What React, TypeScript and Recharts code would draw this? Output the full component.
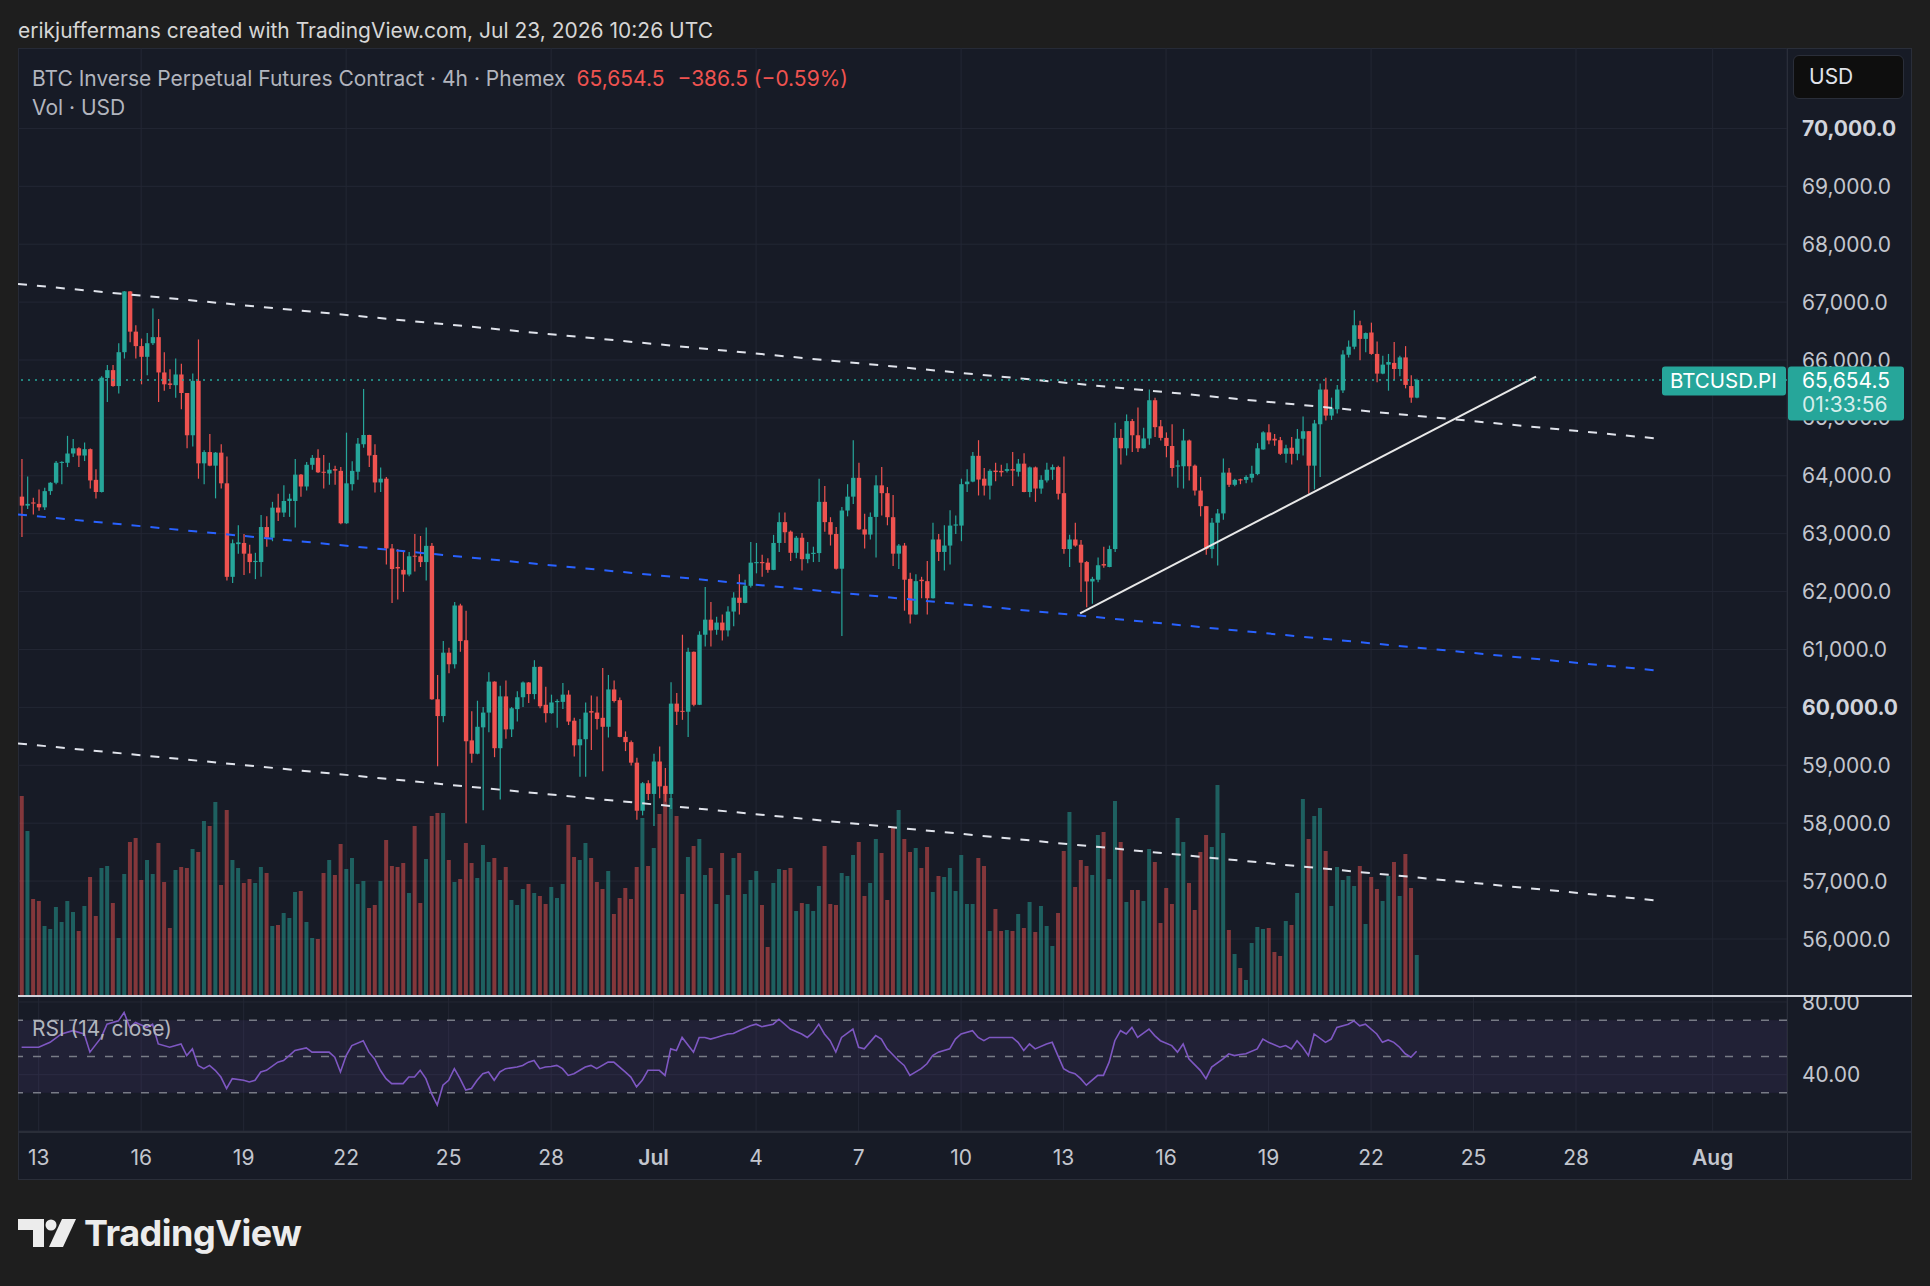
import React from "react";
import {
  ComposedChart,
  Bar,
  Line,
  XAxis,
  YAxis,
  CartesianGrid,
  ReferenceLine,
  ReferenceArea,
  Cell,
} from "recharts";

// BTCUSD.PI 4h candles, first visible one opens Jun 12 2026 12:00 UTC
const FIRST_CANDLE = Date.UTC(2026, 5, 12, 12);
const FOUR_H = 4 * 3600 * 1000;

// [open, high, low, close]
const ohlc: [number, number, number, number][] = [
  [63640, 64290, 62945, 63485], [63485, 63990, 63425, 63515], [63540, 63620, 63330, 63520], [63515, 63765, 63395, 63455],
  [63455, 63795, 63410, 63735], [63735, 63890, 63670, 63880], [63880, 64255, 63855, 64225], [64225, 64250, 63855, 64240],
  [64225, 64690, 64150, 64385], [64385, 64635, 64325, 64475], [64475, 64495, 64150, 64350], [64350, 64575, 64255, 64460],
  [64460, 64470, 63780, 63920], [63930, 64115, 63610, 63720], [63720, 65720, 63710, 65695], [65690, 65915, 65275, 65825],
  [65825, 65915, 65540, 65550], [65550, 66290, 65420, 66135], [66135, 67190, 66025, 67185], [67185, 67190, 66305, 66490],
  [66490, 66600, 66025, 66240], [66240, 66370, 65580, 66055], [66055, 66465, 65735, 66290], [66290, 66890, 66260, 66395],
  [66395, 66710, 65275, 65785], [65785, 66135, 65470, 65580], [65595, 65840, 65500, 65570], [65565, 66025, 65350, 65750],
  [65750, 65935, 65150, 65430], [65430, 65430, 64475, 64700], [64700, 65765, 64505, 65640], [65640, 66355, 63950, 64215],
  [64215, 64440, 63855, 64410], [64410, 64720, 64165, 64175], [64175, 64410, 63610, 64400], [64400, 64545, 63780, 63870],
  [63870, 64335, 62190, 62255], [62255, 62900, 62150, 62835], [62820, 63145, 62655, 62850], [62840, 62995, 62285, 62655],
  [62655, 62810, 62315, 62510], [62510, 62670, 62215, 62530], [62510, 63325, 62255, 63115], [63115, 63300, 62775, 62930],
  [62930, 63550, 62870, 63450], [63450, 63690, 63220, 63365], [63365, 63835, 63290, 63565], [63565, 63690, 63290, 63605],
  [63565, 64290, 63105, 64020], [64020, 64030, 63640, 63815], [63815, 64240, 63745, 64190], [64190, 64360, 64105, 64310],
  [64310, 64460, 64050, 64060], [64070, 64360, 63780, 64060], [64040, 64225, 63845, 64105], [64115, 64175, 63845, 64090],
  [64085, 64150, 63165, 63180], [63180, 64745, 63170, 63870], [63855, 64250, 63745, 64085], [64070, 64655, 63930, 64555],
  [64545, 65500, 64485, 64705], [64705, 64710, 64150, 64350], [64360, 64545, 63710, 63885], [63885, 64145, 63720, 63950],
  [63950, 63980, 62470, 62745], [62745, 62820, 61805, 62390], [62425, 62735, 61865, 62400], [62375, 62695, 61995, 62295],
  [62295, 62685, 62265, 62610], [62620, 62995, 62345, 62605], [62610, 62960, 62425, 62510], [62510, 63105, 62190, 62790],
  [62790, 62840, 60130, 60140], [60140, 60560, 58985, 59850], [59850, 61145, 59745, 60945], [60945, 61030, 60590, 60745],
  [60745, 61820, 60670, 61760], [61760, 61790, 60960, 61145], [61160, 61670, 58000, 59415], [59430, 59935, 59045, 59200],
  [59200, 60115, 59190, 59665], [59655, 60005, 58225, 59910], [59910, 60605, 59570, 60445], [60445, 60450, 59140, 59295],
  [59295, 60375, 58410, 60190], [60190, 60465, 59460, 59620], [59620, 60005, 59490, 59985], [59970, 60280, 59755, 60175],
  [60175, 60445, 60005, 60430], [60430, 60440, 60075, 60230], [60230, 60815, 60140, 60700], [60700, 60705, 59985, 60020],
  [60045, 60355, 59740, 59900], [59900, 60220, 59890, 60085], [60090, 60140, 59650, 60110], [60095, 60420, 59970, 60220],
  [60220, 60295, 59695, 59755], [59770, 59820, 59150, 59345], [59345, 59800, 58800, 59450], [59450, 60085, 58800, 59910],
  [59935, 60205, 59265, 59910], [59910, 60190, 59620, 59800], [59820, 60680, 58895, 59665], [59665, 60560, 59480, 60310],
  [60310, 60465, 60085, 60110], [60125, 60170, 59485, 59490], [59490, 59585, 59245, 59400], [59400, 59430, 58995, 59045],
  [59045, 59130, 58060, 58215], [58215, 58710, 58135, 58690], [58690, 58740, 58400, 58505], [58505, 59200, 57950, 59065],
  [59065, 59325, 58430, 58635], [58645, 58955, 58370, 58505], [58505, 60435, 58245, 60065], [60065, 60250, 59695, 59925],
  [59940, 61255, 59785, 59925], [59925, 61030, 59490, 60960], [60960, 60965, 60020, 60045], [60045, 61315, 60040, 61255],
  [61255, 62080, 61050, 61515], [61515, 61820, 61050, 61330], [61340, 61565, 61255, 61465], [61465, 61605, 61155, 61330],
  [61330, 61745, 61225, 61655], [61655, 61990, 61400, 61895], [61895, 62300, 61605, 61805], [61805, 62205, 61800, 62100],
  [62100, 62855, 62070, 62500], [62490, 62840, 62315, 62510], [62510, 62635, 62255, 62490], [62500, 62575, 62325, 62375],
  [62375, 62980, 62370, 62840], [62840, 63365, 62685, 63200], [63200, 63365, 62840, 63025], [63035, 63055, 62530, 62670],
  [62670, 62960, 62575, 62930], [62930, 63010, 62365, 62560], [62560, 62855, 62490, 62655], [62650, 62775, 62510, 62670],
  [62665, 63950, 62510, 63550], [63550, 63825, 63035, 63200], [63200, 63285, 62795, 62985], [62995, 63115, 62380, 62395],
  [62395, 63460, 61235, 63400], [63400, 63855, 63300, 63640], [63640, 64615, 63515, 63965], [63965, 64225, 63070, 63075],
  [63075, 63345, 62745, 62985], [62985, 63365, 62900, 63290], [63290, 64010, 62590, 63835], [63835, 64150, 63315, 63700],
  [63700, 63805, 63145, 63285], [63285, 63670, 62440, 62655], [62655, 62820, 62390, 62795], [62795, 62840, 61670, 62205],
  [62220, 62325, 61450, 61605], [61605, 62300, 61600, 62180], [62205, 62255, 61885, 62180], [62180, 62530, 61605, 61885],
  [61885, 63190, 61880, 62900], [62900, 62995, 62530, 62685], [62685, 63145, 62365, 62795], [62795, 63405, 62470, 63140],
  [63140, 63315, 62995, 63160], [63140, 63950, 62870, 63855], [63855, 64115, 63720, 63900], [63900, 64410, 63890, 64345],
  [64345, 64615, 63660, 63935], [63950, 64135, 63660, 63830], [63830, 64115, 63590, 64085], [64090, 64225, 63905, 64065],
  [64085, 64190, 63990, 64060], [64085, 64215, 64055, 64115], [64115, 64410, 63825, 64090], [64070, 64290, 63990, 64210],
  [64210, 64390, 63715, 63720], [63720, 64160, 63630, 64145], [64145, 64160, 63550, 63780], [63780, 64010, 63690, 63930],
  [63920, 64225, 63885, 64105], [64105, 64195, 63930, 64150], [64150, 64175, 63590, 63690], [63700, 64335, 62655, 62735],
  [62735, 62980, 62425, 62900], [62900, 63190, 62775, 62795], [62810, 62890, 61995, 62500], [62510, 62530, 61730, 62175],
  [62175, 62255, 61790, 62220], [62205, 62590, 62160, 62455], [62475, 62775, 62410, 62450], [62425, 62795, 62420, 62735],
  [62735, 64915, 62685, 64655], [64655, 64810, 64195, 64475], [64475, 65060, 64350, 64945], [64945, 64980, 64410, 64700],
  [64700, 65180, 64410, 64475], [64475, 64830, 64470, 64645], [64645, 65490, 64535, 65305], [65305, 65350, 64670, 64840],
  [64855, 64965, 64610, 64655], [64655, 64750, 64320, 64515], [64515, 64890, 63990, 64135], [64160, 64270, 63795, 64180],
  [64165, 64810, 63780, 64610], [64610, 64625, 63920, 64165], [64175, 64195, 63660, 63745], [63745, 63980, 63300, 63475],
  [63475, 63480, 62635, 62735], [62735, 63270, 62575, 63190], [63190, 63425, 62450, 63350], [63350, 64300, 63240, 64055],
  [64055, 64135, 63805, 63845], [63845, 63950, 63820, 63930], [63940, 63950, 63855, 63920], [63930, 64010, 63870, 63980],
  [63965, 64175, 63885, 64035], [64030, 64565, 64010, 64475], [64455, 64770, 64450, 64750], [64750, 64890, 64545, 64610],
  [64640, 64720, 64520, 64610], [64615, 64670, 64360, 64380], [64380, 64535, 64225, 64475], [64485, 64670, 64195, 64380],
  [64380, 64810, 64270, 64640], [64640, 65025, 64350, 64770], [64770, 64775, 63690, 64175], [64175, 64965, 63765, 64905],
  [64890, 65595, 63980, 65490], [65490, 65695, 64955, 65040], [65040, 65350, 64965, 65165], [65150, 65570, 65075, 65490],
  [65475, 66170, 65430, 66095], [66090, 66335, 66045, 66230], [66230, 66860, 66185, 66600], [66600, 66680, 65995, 66365],
  [66365, 66475, 66135, 66465], [66475, 66645, 66090, 66105], [66105, 66320, 65615, 65765], [65765, 66075, 65755, 65920],
  [65920, 66105, 65470, 65965], [65950, 66310, 65655, 65845], [65845, 66075, 65720, 66045], [66045, 66240, 65510, 65570],
  [65550, 65735, 65260, 65350], [65350, 65675, 65340, 65654.5],
];

// volume, M USD
const volumes = [
  200, 165, 97, 95, 70, 67, 89, 74, 95, 84, 65, 90, 119, 80, 128, 130, 93, 58, 122, 154,
  158, 116, 136, 122, 153, 114, 68, 126, 129, 128, 147, 144, 175, 170, 194, 111, 186, 136, 128, 113,
  117, 113, 129, 123, 70, 71, 83, 78, 104, 105, 74, 58, 57, 123, 136, 121, 152, 127, 138, 112,
  115, 88, 91, 115, 156, 130, 129, 133, 103, 170, 93, 137, 180, 183, 183, 136, 114, 117, 153, 133,
  118, 151, 134, 138, 116, 129, 96, 91, 107, 112, 103, 100, 92, 109, 98, 112, 171, 139, 136, 153,
  138, 114, 107, 125, 82, 98, 108, 97, 129, 178, 130, 148, 182, 209, 198, 180, 102, 139, 150, 157,
  121, 128, 92, 143, 101, 138, 143, 102, 116, 125, 91, 49, 113, 127, 126, 128, 85, 93, 92, 85,
  110, 150, 92, 91, 123, 120, 141, 154, 100, 113, 157, 143, 96, 169, 186, 157, 144, 148, 128, 149,
  104, 120, 119, 128, 105, 141, 92, 92, 138, 130, 65, 87, 65, 66, 65, 82, 68, 94, 64, 90,
  70, 50, 83, 145, 184, 109, 136, 130, 121, 161, 164, 117, 195, 154, 94, 106, 106, 95, 147, 134,
  73, 108, 92, 178, 154, 113, 86, 144, 161, 149, 211, 163, 66, 42, 28, 16, 53, 69, 67, 68,
  44, 40, 75, 71, 103, 197, 157, 180, 188, 145, 90, 129, 116, 120, 110, 130, 72, 119, 107, 95,
  120, 134, 100, 142, 108, 41,
];

// RSI(14, close)
const rsi14: (number | null)[] = [
  55.1, null, null, 55.1, null, 57.8, null, 62.4, null, 64.2,
  null, 62.4, 52.4, null, 60.5, 67.8, null, 69.6, 74.2, 66.0,
  68.7, null, 66.0, 67.8, 56.9, null, 55.1, null, 56.9, 50.5,
  54.2, 45.1, 43.3, 45.1, 42.4, 38.7, 32.4, 37.8, null, 36.9,
  36.0, 36.9, 41.5, 42.4, null, 46.9, 47.8, 50.5, 53.3, null,
  54.7, 52.4, 52.4, null, 52.4, 49.6, 41.5, 50.5, 56.0, null,
  58.7, 52.4, 48.7, 42.4, 37.8, 35.1, null, 35.1, 38.7, 38.7,
  42.4, 37.8, 29.6, 23.3, 34.2, 36.9, 43.3, 37.8, 31.5, 32.4,
  36.9, 40.5, 41.5, 36.9, 41.5, 43.3, null, 44.2, 45.1, 46.9,
  47.8, 43.3, 44.2, 44.5, 45.1, 43.3, 39.6, 40.5, null, 44.2,
  45.1, 43.3, null, 46.9, 46.9, null, 41.5, 38.7, 33.3, 36.9,
  42.4, null, 42.4, 39.6, 54.2, 53.3, 60.5, null, 52.4, 60.5,
  60.5, 59.6, 60.5, null, 62.4, 62.7, 64.2, null, 66.9, 67.8,
  66.4, null, 67.8, 70.5, 67.8, 65.1, null, 62.4, 60.5, 63.3,
  67.8, 62.4, 58.7, 52.4, 60.5, null, 65.1, 55.1, 54.2, null,
  61.5, 59.6, 54.2, null, 47.8, 45.1, 39.6, null, 43.3, 46.0,
  50.5, 52.4, null, 54.2, 59.6, 62.4, null, 64.2, 60.5, 58.7,
  60.5, null, 60.5, 60.5, 60.5, 57.8, 53.3, 56.9, 54.2, null,
  56.9, 57.8, 50.5, 43.3, 41.5, 40.5, 37.8, 34.2, null, 39.6,
  39.6, 46.9, 58.7, 64.2, 62.4, 66.0, 60.5, null, 65.1, 61.5,
  58.7, null, 56.0, 52.4, 56.9, 48.7, null, 42.4, 37.8, 44.2,
  null, 48.7, 51.5, 50.5, 51.1, 51.5, null, 54.2, 59.6, 57.8,
  null, 55.1, 56.0, 54.2, 58.7, 55.1, 50.5, 62.4, null, 57.8,
  59.6, 66.0, null, 67.8, 69.6, 66.9, 67.8, null, 62.4, 57.8,
  59.1, 57.8, 55.1, 51.5, 49.6, 52.9,
];

const tickDates = [
  "2026-06-13", "2026-06-16", "2026-06-19", "2026-06-22", "2026-06-25", "2026-06-28",
  "2026-07-01", "2026-07-04", "2026-07-07", "2026-07-10", "2026-07-13", "2026-07-16",
  "2026-07-19", "2026-07-22", "2026-07-25", "2026-07-28", "2026-08-01",
];
const tickLabels = ["13", "16", "19", "22", "25", "28", "Jul", "4", "7", "10", "13", "16", "19", "22", "25", "28", "Aug"];
const priceTicks = [56000, 57000, 58000, 59000, 60000, 61000, 62000, 63000, 64000, 65000, 66000, 67000, 68000, 69000, 70000];
const rsiTicks = [40, 80];
const rsiLevels = [70, 50, 30];

// drawings, [candle index, price]
const channelTop = [[-0.63, 67313], [288.1, 64636]];
const channelMid = [[-0.63, 63332], [288.1, 60629]];
const channelLow = [[-0.63, 59377], [288.1, 56656]];
const supportLine = [[185.9, 61624], [265.97, 65713]];

const lastPrice = 65654.5;
const countdown = "01:33:56";

const UP = "#26a69a";
const DOWN = "#ef5350";
const GRID = "#232734";
const PANEL_BG = "#171b26";
const PAGE_BG = "#1e1e1e";
const BORDER = "#2a2e39";
const TEXT = "#c3c6ce";
const FONT = "Inter, 'Noto Sans', sans-serif";
const PRICE_DOMAIN = [55015, 71389];

const at = (i: number) => FIRST_CANDLE + i * FOUR_H;
const xDomain = [at(-0.632), at(310.05)];
const tickTimes = tickDates.map((d) => Date.parse(d + "T00:00:00Z"));
const labelByTime = new Map(tickTimes.map((t, k) => [t, tickLabels[k]]));

const candles = ohlc.map(([open, high, low, close], i) => ({
  t: at(i),
  open,
  high,
  low,
  close,
  range: [low, high],
  vol: volumes[i],
  rsi: rsi14[i],
}));

const fmtPrice = (v: number) =>
  v.toLocaleString("en-US", { minimumFractionDigits: 1, maximumFractionDigits: 1 });

function Candle(props: any) {
  const { x, y, width, height, payload } = props;
  if (!payload || height == null) return null;
  const { open, close, high, low } = payload;
  const color = close >= open ? UP : DOWN;
  const k = height / (high - low || 1);
  const top = y + (high - Math.max(open, close)) * k;
  const bodyH = Math.max(1, Math.abs(open - close) * k);
  const cx = x + width / 2;
  return (
    <g>
      <line x1={cx} x2={cx} y1={y} y2={y + height} stroke={color} strokeWidth={1.2} />
      <rect x={x} y={top} width={width} height={bodyH} fill={color} />
    </g>
  );
}

function PriceAxisTick(props: any) {
  const { x, y, payload } = props;
  const major = payload.value % 10000 === 0;
  return (
    <text x={x} y={y} dy="0.36em" textAnchor="start" fontSize={21}
      fill={major ? "#d1d4dc" : TEXT} fontWeight={major ? 700 : 400}>
      {fmtPrice(payload.value)}
    </text>
  );
}

function RsiAxisTick(props: any) {
  const { x, y, payload } = props;
  return (
    <text x={x} y={y} dy="0.36em" textAnchor="start" fontSize={21} fill={TEXT}>
      {payload.value.toFixed(2)}
    </text>
  );
}

function TimeTick(props: any) {
  const { x, y, payload } = props;
  const label = labelByTime.get(payload.value) ?? "";
  const month = isNaN(Number(label));
  return (
    <text x={x} y={y} dy="0.71em" textAnchor="middle" fontSize={21}
      fill={TEXT} fontWeight={month ? 600 : 400}>
      {label}
    </text>
  );
}

function PriceTag(props: any) {
  const vb = props.viewBox;
  if (!vb) return null;
  const y = vb.y;
  const right = vb.x + vb.width;
  return (
    <g>
      <rect x={right - 125} y={y - 13.5} width={124} height={29} rx={3} fill={UP} />
      <text x={right - 117} y={y + 1} dy="0.36em" fill="#ffffff" fontSize={20.5}>BTCUSD.PI</text>
      <rect x={right + 1} y={y - 13.5} width={116} height={54} rx={3} fill={UP} />
      <text x={right + 15} y={y} dy="0.36em" fill="#ffffff" fontSize={21}>{fmtPrice(lastPrice)}</text>
      <text x={right + 15} y={y + 24} dy="0.36em" fill="rgba(255,255,255,0.82)" fontSize={21}>{countdown}</text>
    </g>
  );
}

const seg = (pts: number[][]) => pts.map(([i, p]) => ({ x: at(i), y: p }));

function PriceChart() {
  return (
    <ComposedChart width={1894} height={948} data={candles}
      margin={{ top: 0, right: 0, bottom: 0, left: 0 }} barGap={0} barCategoryGap={0}>
      <CartesianGrid stroke={GRID} yAxisId="p" />
      <XAxis dataKey="t" type="number" domain={xDomain} ticks={tickTimes} allowDataOverflow hide />
      <XAxis xAxisId="v" dataKey="t" type="number" domain={xDomain} allowDataOverflow hide />
      <YAxis yAxisId="p" orientation="right" width={125} type="number" domain={PRICE_DOMAIN}
        ticks={priceTicks} allowDataOverflow axisLine={false} tickLine={false} tickSize={0}
        tickMargin={15} tick={<PriceAxisTick />} interval={0} />
      <YAxis yAxisId="v" type="number" domain={[0, 948]} allowDataOverflow hide />
      <Bar xAxisId="v" yAxisId="v" dataKey="vol" barSize={4} isAnimationActive={false}>
        {candles.map((c, i) => (
          <Cell key={i} fill={c.close >= c.open ? "rgba(38,166,154,0.5)" : "rgba(239,83,80,0.5)"} />
        ))}
      </Bar>
      <Bar yAxisId="p" dataKey="range" barSize={4.4} shape={<Candle />} isAnimationActive={false} />
      <ReferenceLine yAxisId="p" segment={seg(channelTop)} stroke="#e0e3eb" strokeWidth={2}
        strokeDasharray="9 10" ifOverflow="visible" />
      <ReferenceLine yAxisId="p" segment={seg(channelMid)} stroke="#2962ff" strokeWidth={2}
        strokeDasharray="9 10" ifOverflow="visible" />
      <ReferenceLine yAxisId="p" segment={seg(channelLow)} stroke="#e0e3eb" strokeWidth={2}
        strokeDasharray="9 10" ifOverflow="visible" />
      <ReferenceLine yAxisId="p" segment={seg(supportLine)} stroke="#e8e8e8" strokeWidth={2}
        ifOverflow="visible" />
      <ReferenceLine yAxisId="p" y={lastPrice} stroke={UP} strokeWidth={1.5} strokeDasharray="2 5" />
    </ComposedChart>
  );
}

// transparent layer on top so the last-price tags cover the axis labels
function PriceTagLayer() {
  return (
    <ComposedChart width={1894} height={948} data={candles}
      margin={{ top: 0, right: 0, bottom: 0, left: 0 }}>
      <XAxis dataKey="t" type="number" domain={xDomain} allowDataOverflow hide />
      <YAxis yAxisId="p" orientation="right" width={125} type="number" domain={PRICE_DOMAIN}
        allowDataOverflow axisLine={false} tickLine={false} tick={false} />
      <ReferenceLine yAxisId="p" y={lastPrice} stroke="none" label={<PriceTag />} />
    </ComposedChart>
  );
}

function RsiChart() {
  return (
    <ComposedChart width={1894} height={183} data={candles}
      margin={{ top: 0, right: 0, bottom: 0, left: 0 }}>
      <CartesianGrid stroke={GRID} />
      <XAxis dataKey="t" type="number" domain={xDomain} ticks={tickTimes} allowDataOverflow
        height={49} axisLine={false} tickLine={false} tickSize={0} tickMargin={19}
        tick={<TimeTick />} interval={0} />
      <YAxis orientation="right" width={125} type="number" domain={[9, 82.75]} ticks={rsiTicks}
        allowDataOverflow axisLine={false} tickLine={false} tickSize={0} tickMargin={15}
        tick={<RsiAxisTick />} interval={0} />
      <ReferenceArea y1={30} y2={70} fill="#7e57c2" fillOpacity={0.1} stroke="none" />
      {rsiLevels.map((lv) => (
        <ReferenceLine key={lv} y={lv} stroke="#787b86" strokeWidth={1.5} strokeDasharray="8 10" />
      ))}
      <Line dataKey="rsi" stroke="#7e57c2" strokeWidth={1.6} dot={false} connectNulls
        isAnimationActive={false} />
    </ComposedChart>
  );
}

export default function App() {
  const abs = (s: React.CSSProperties): React.CSSProperties => ({ position: "absolute", ...s });
  const legend: React.CSSProperties = { fontSize: 21, lineHeight: "24px", color: "#b2b5be", whiteSpace: "nowrap" };
  return (
    <div style={abs({ left: 0, top: 0, width: 1930, height: 1286, background: PAGE_BG, fontFamily: FONT, overflow: "hidden" })}>
      <div style={abs({ left: 18, top: 19, fontSize: 21, lineHeight: "24px", color: "#d6d6d6", whiteSpace: "nowrap" })}>
        erikjuffermans created with TradingView.com, Jul 23, 2026 10:26 UTC
      </div>
      <div style={abs({ left: 18, top: 48, width: 1894, height: 1132, background: PANEL_BG, boxShadow: `inset 0 0 0 1px ${BORDER}` })} />
      <div style={abs({ left: 18, top: 48 })}>
        <PriceChart />
      </div>
      <div style={abs({ left: 18, top: 997 })}>
        <RsiChart />
      </div>
      <div style={abs({ left: 1787, top: 48, width: 1, height: 1132, background: BORDER })} />
      <div style={abs({ left: 18, top: 1131, width: 1894, height: 2, background: BORDER })} />
      <div style={abs({ left: 18, top: 995, width: 1894, height: 2, background: "#d1d4dc" })} />
      <div style={abs({ left: 18, top: 48 })}>
        <PriceTagLayer />
      </div>

      <div style={abs({ left: 32, top: 67, ...legend })}>
        BTC Inverse Perpetual Futures Contract · 4h · Phemex
        <span style={{ color: "#f05350", marginLeft: 11 }}>65,654.5</span>
        <span style={{ color: "#f05350", marginLeft: 13 }}>−386.5 (−0.59%)</span>
      </div>
      <div style={abs({ left: 32, top: 96, ...legend })}>Vol · USD</div>
      <div style={abs({ left: 32, top: 1017, ...legend })}>RSI (14, close)</div>

      <div style={abs({ left: 1793, top: 55, width: 111, height: 44, boxSizing: "border-box", background: "#0e0e0e", border: `1px solid ${BORDER}`, borderRadius: 6, color: "#e0e3eb", fontSize: 21, lineHeight: "42px", paddingLeft: 15 })}>
        USD
      </div>

      <svg style={abs({ left: 0, top: 1210 })} width={80} height={50}>
        <path d="M18,9 H44 V37 H33 V20 H18 Z" fill="#ececec" />
        <circle cx={51} cy={15} r={5.5} fill="#ececec" />
        <path d="M62,9 H76 L63,37 H49 Z" fill="#ececec" />
      </svg>
      <div style={abs({ left: 84, top: 1210, fontSize: 36, lineHeight: "46px", fontWeight: 700, color: "#ececec", letterSpacing: -0.5 })}>
        TradingView
      </div>
    </div>
  );
}
